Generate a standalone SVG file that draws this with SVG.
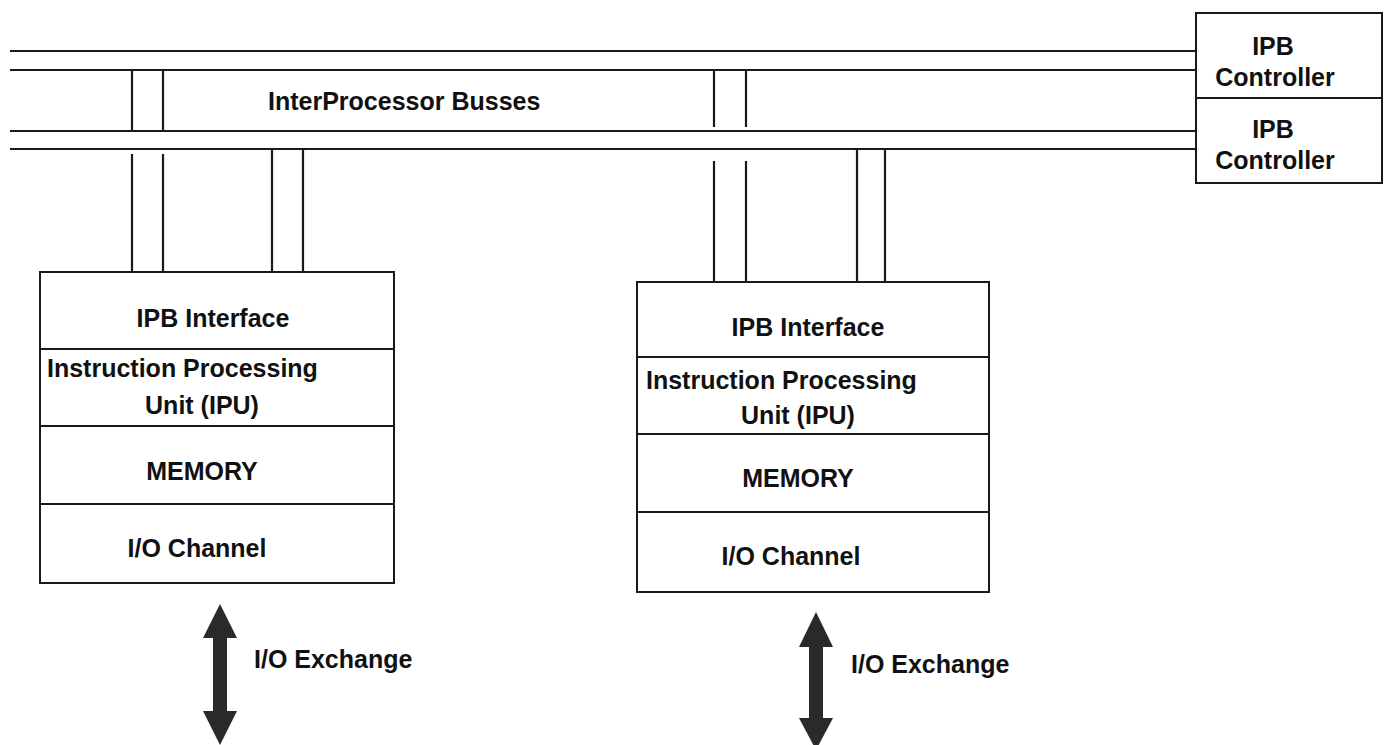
<svg xmlns="http://www.w3.org/2000/svg" width="1387" height="745" viewBox="0 0 1387 745">
<style>
.ln{stroke:#1a1a1a;stroke-width:2.2;fill:none}
.bx{stroke:#1a1a1a;stroke-width:2;fill:#fff}
.t{font-family:"Liberation Sans",Arial,sans-serif;font-weight:bold;font-size:25px;fill:#111}
.m{text-anchor:middle}
.arr{fill:#2a2a2a}
</style>
<rect width="1387" height="745" fill="#fff"/>
<g id="connectors">
<line class="ln" x1="10" y1="51" x2="1197" y2="51"/>
<line class="ln" x1="10" y1="70" x2="1197" y2="70"/>
<line class="ln" x1="10" y1="131" x2="1197" y2="131"/>
<line class="ln" x1="10" y1="149" x2="1197" y2="149"/>
<line class="ln" x1="132" y1="70" x2="132" y2="131"/>
<line class="ln" x1="163" y1="70" x2="163" y2="131"/>
<line class="ln" x1="132" y1="154" x2="132" y2="272"/>
<line class="ln" x1="163" y1="154" x2="163" y2="272"/>
<line class="ln" x1="272" y1="149" x2="272" y2="272"/>
<line class="ln" x1="303" y1="149" x2="303" y2="272"/>
<line class="ln" x1="714" y1="70" x2="714" y2="127"/>
<line class="ln" x1="746" y1="70" x2="746" y2="127"/>
<line class="ln" x1="714" y1="161" x2="714" y2="282"/>
<line class="ln" x1="746" y1="161" x2="746" y2="282"/>
<line class="ln" x1="857" y1="149" x2="857" y2="282"/>
<line class="ln" x1="885" y1="149" x2="885" y2="282"/>
<polygon class="arr" points="220,604 237,638 227,638 227,711 237,711 220,745 203,711 213,711 213,638 203,638"/>
<polygon class="arr" points="816,612 833,647 823,647 823,718 833,718 816,750 799,718 809,718 809,647 799,647"/>
</g>
<text class="t" x="268" y="110">InterProcessor Busses</text>
<g id="ctrl1">
<rect class="bx" x="1196" y="13" width="186" height="85"/>
<text class="t m" x="1273" y="55">IPB</text>
<text class="t m" x="1275" y="86">Controller</text>
</g>
<g id="ctrl2">
<rect class="bx" x="1196" y="98" width="186" height="85"/>
<text class="t m" x="1273" y="138">IPB</text>
<text class="t m" x="1275" y="169">Controller</text>
</g>
<g id="node1">
<rect class="bx" x="40" y="272" width="354" height="311"/>
<line class="ln" x1="40" y1="349" x2="394" y2="349"/>
<line class="ln" x1="40" y1="426" x2="394" y2="426"/>
<line class="ln" x1="40" y1="504" x2="394" y2="504"/>
<text class="t m" x="213" y="327">IPB Interface</text>
<text class="t" x="47" y="377">Instruction Processing</text>
<text class="t m" x="202" y="414">Unit (IPU)</text>
<text class="t m" x="202" y="480">MEMORY</text>
<text class="t m" x="197" y="557">I/O Channel</text>
</g>
<g id="node2">
<rect class="bx" x="637" y="282" width="352" height="310"/>
<line class="ln" x1="637" y1="357" x2="989" y2="357"/>
<line class="ln" x1="637" y1="434" x2="989" y2="434"/>
<line class="ln" x1="637" y1="512" x2="989" y2="512"/>
<text class="t m" x="808" y="336">IPB Interface</text>
<text class="t" x="646" y="389">Instruction Processing</text>
<text class="t m" x="798" y="424">Unit (IPU)</text>
<text class="t m" x="798" y="487">MEMORY</text>
<text class="t m" x="791" y="565">I/O Channel</text>
</g>
<text class="t" x="254" y="668">I/O Exchange</text>
<text class="t" x="851" y="673">I/O Exchange</text>
</svg>
